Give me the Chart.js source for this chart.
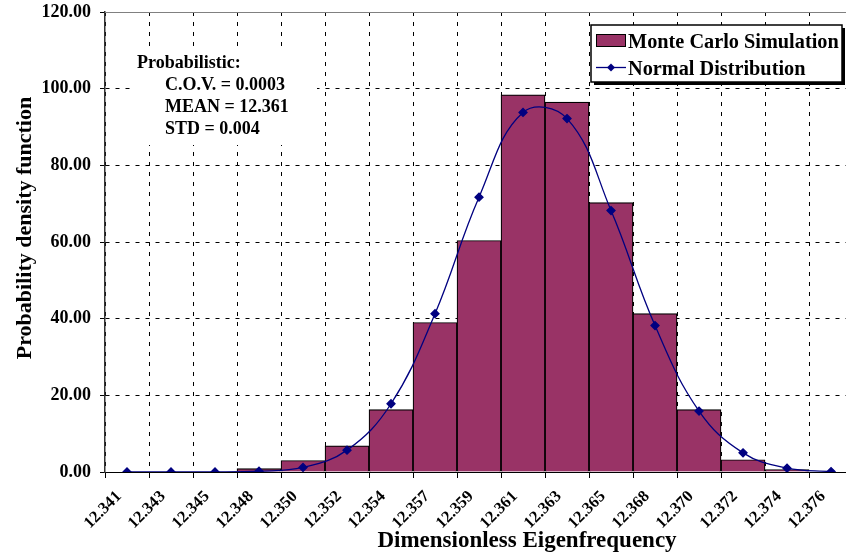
<!DOCTYPE html>
<html>
<head>
<meta charset="utf-8">
<script src="https://cdn.jsdelivr.net/npm/chart.js@4.4.0/dist/chart.umd.min.js"></script>
<style>
  html, body { margin: 0; padding: 0; background: #fff; }
  #wrap { width: 846px; height: 557px; }
</style>
</head>
<body>
<div id="wrap"><canvas id="pdfChart" width="846" height="557"></canvas></div>
<script>
var binLabels = ['12.341', '12.343', '12.345', '12.348', '12.350', '12.352', '12.354', '12.357', '12.359',
                 '12.361', '12.363', '12.365', '12.368', '12.370', '12.372', '12.374', '12.376'];
var mcValues = [0, 0, 0, 0.9, 3.0, 6.8, 16.3, 39.0, 60.4, 98.4, 96.5, 70.3, 41.3, 16.3, 3.2, 0.6, 0];
var normalValues = [0, 0, 0, 0.2, 1.2, 5.7, 17.8, 41.3, 71.7, 93.8, 92.2, 68.2, 38.2, 15.9, 5.0, 1.0, 0.1];
var yTicks = [0, 20, 40, 60, 80, 100, 120];
var infoLines = ['Probabilistic:', 'C.O.V. = 0.0003', 'MEAN = 12.361', 'STD = 0.004'];
var xTitle = 'Dimensionless Eigenfrequency';
var yTitle = 'Probability density function';

var barColor = '#993366';
var lineColor = '#000080';
var serif = "'Liberation Serif', 'Times New Roman', serif";

function toPoints(values){
  return values.map(function(v, i){ return {x: i, y: v}; });
}

// axis titles, the info text and the boxed legend are placed by hand like in the original
var overlayPlugin = {
  id: 'overlay',
  beforeDatasetsDraw: function(chart){
    var ctx = chart.ctx;
    var area = chart.chartArea;
    ctx.save();
    ctx.strokeStyle = '#808080';
    ctx.lineWidth = 1;
    ctx.beginPath();
    ctx.moveTo(area.left, Math.round(area.top) + 0.5);
    ctx.lineTo(area.right, Math.round(area.top) + 0.5);
    ctx.stroke();
    ctx.restore();
  },
  afterDraw: function(chart){
    var ctx = chart.ctx;
    var ds = chart.data.datasets;
    ctx.save();
    // white text box behind the info text
    ctx.fillStyle = '#fff';
    ctx.fillRect(133, 51, 184, 94);

    ctx.fillStyle = '#000';
    ctx.textBaseline = 'alphabetic';
    ctx.textAlign = 'left';
    ctx.font = 'bold 18px ' + serif;
    ctx.fillText(infoLines[0], 137, 67.5);
    ctx.fillText(infoLines[1], 165, 90);
    ctx.fillText(infoLines[2], 165, 112);
    ctx.fillText(infoLines[3], 165, 134);

    ctx.textAlign = 'center';
    ctx.font = 'bold 23px ' + serif;
    ctx.fillText(xTitle, 527, 547);
    ctx.font = 'bold 22px ' + serif;
    ctx.save();
    ctx.translate(31, 228);
    ctx.rotate(-Math.PI / 2);
    ctx.fillText(yTitle, 0, 0);
    ctx.restore();

    // legend
    var lx = 591, ly = 25, lw = 251, lh = 57;
    ctx.fillStyle = '#000';
    ctx.fillRect(lx + 3, ly + 3, lw, lh);
    ctx.fillStyle = '#fff';
    ctx.fillRect(lx, ly, lw, lh);
    ctx.strokeStyle = '#000';
    ctx.lineWidth = 1.5;
    ctx.strokeRect(lx, ly, lw, lh);

    ctx.fillStyle = ds[1].backgroundColor;
    ctx.fillRect(596, 34, 29, 12);
    ctx.lineWidth = 1;
    ctx.strokeRect(596.5, 34.5, 29, 12);

    ctx.strokeStyle = ds[0].borderColor;
    ctx.lineWidth = 1.3;
    ctx.beginPath();
    ctx.moveTo(596, 67.5);
    ctx.lineTo(626, 67.5);
    ctx.stroke();
    ctx.fillStyle = ds[0].borderColor;
    ctx.beginPath();
    ctx.moveTo(611, 63.5);
    ctx.lineTo(615, 67.5);
    ctx.lineTo(611, 71.5);
    ctx.lineTo(607, 67.5);
    ctx.closePath();
    ctx.fill();

    ctx.fillStyle = '#000';
    ctx.textAlign = 'left';
    ctx.font = 'bold 20.3px ' + serif;
    ctx.fillText(ds[1].label, 628, 48);
    ctx.fillText(ds[0].label, 628, 75);
    ctx.restore();
  }
};

var ctx = document.getElementById('pdfChart').getContext('2d');
var pdfChart = new Chart(ctx, {
  type: 'bar',
  plugins: [overlayPlugin],
  data: {
    datasets: [{
      type: 'line',
      label: 'Normal Distribution',
      data: toPoints(normalValues),
      borderColor: lineColor,
      backgroundColor: lineColor,
      borderWidth: 1.3,
      pointStyle: 'rectRot',
      pointRadius: 4,
      pointHoverRadius: 4,
      tension: 0.4,
      order: 0
    }, {
      type: 'bar',
      label: 'Monte Carlo Simulation',
      data: toPoints(mcValues),
      backgroundColor: barColor,
      borderColor: '#000',
      borderWidth: 1.2,
      categoryPercentage: 1,
      barPercentage: 1,
      order: 1
    }]
  },
  options: {
    responsive: false,
    animation: false,
    layout: {
      autoPadding: false,
      padding: { top: 12, right: 0, bottom: 0, left: 0 }
    },
    plugins: {
      legend: { display: false },
      title: { display: false },
      tooltip: { enabled: false }
    },
    scales: {
      x: {
        type: 'linear',
        min: -0.5,
        max: 16.34,
        offset: false,
        afterBuildTicks: function(scale){
          scale.ticks = binLabels.map(function(l, i){ return {value: i}; });
        },
        afterFit: function(scale){
          scale.height = 85;
          scale.paddingLeft = 0;
          scale.paddingRight = 0;
        },
        grid: {
          offset: true,
          color: '#000',
          lineWidth: 1,
          tickLength: 6,
          tickColor: '#000'
        },
        border: { display: true, color: '#000', width: 1, dash: [4, 6] },
        ticks: {
          autoSkip: false,
          minRotation: 45,
          maxRotation: 45,
          padding: 9,
          labelOffset: -8,
          color: '#000',
          font: { family: serif, size: 16.5, weight: 'bold' },
          callback: function(v){ return binLabels[v]; }
        }
      },
      y: {
        min: 0,
        max: 120,
        afterBuildTicks: function(scale){
          scale.ticks = yTicks.map(function(v){ return {value: v}; });
        },
        afterFit: function(scale){
          scale.width = 105;
          scale.paddingTop = 0;
          scale.paddingBottom = 0;
        },
        grid: {
          color: '#000',
          lineWidth: 1,
          tickLength: 5,
          tickColor: '#000'
        },
        border: { display: true, color: '#333', width: 1.5, dash: [4, 6] },
        ticks: {
          padding: 9,
          color: '#000',
          font: { family: serif, size: 18, weight: 'bold' },
          callback: function(v){ return v.toFixed(2); }
        }
      }
    }
  }
});
</script>
</body>
</html>
